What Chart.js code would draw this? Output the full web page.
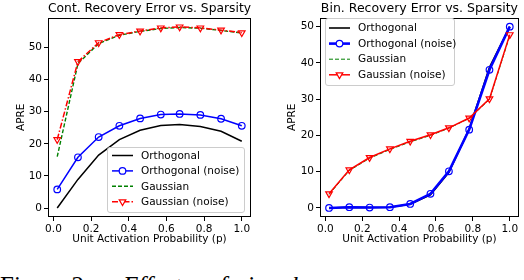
<!DOCTYPE html>
<html>
<head>
<meta charset="utf-8">
<script src="https://cdn.jsdelivr.net/npm/chart.js@4.4.1/dist/chart.umd.min.js"></script>
<style>
  body { margin: 0; width: 524px; height: 280px; overflow: hidden; background: #fff; position: relative; }
  .panel { position: absolute; top: 0; width: 262px; height: 250px; }
  #leftPanel { left: 0; }
  #rightPanel { left: 262px; }
  .caption span { position: absolute; top: 273px; font-family: "Liberation Serif", serif; font-size: 25px; line-height: 25px; white-space: nowrap; }
  .caption .it { font-style: italic; }
</style>
</head>
<body>
<div class="panel" id="leftPanel"><canvas id="contChart" width="262" height="250"></canvas></div>
<div class="panel" id="rightPanel"><canvas id="binChart" width="262" height="250"></canvas></div>
<div class="caption">
  <span style="left:0">Figure 2:</span>
  <span class="it" style="left:123px">Effect</span>
  <span class="it" style="left:207px">of</span>
  <span class="it" style="left:237px">signal</span>
</div>
<script>
// Data
const probs = [0.02, 0.13, 0.24, 0.35, 0.46, 0.57, 0.67, 0.78, 0.89, 1.0];
const seriesNames = ["Orthogonal", "Orthogonal (noise)", "Gaussian", "Gaussian (noise)"];

const contOrth = [0, 8.9, 16.5, 21.3, 24.2, 25.7, 26.0, 25.4, 23.9, 20.8];
const contOrthNoise = [5.8, 15.8, 22.1, 25.6, 27.9, 29.1, 29.3, 29.0, 27.8, 25.6];
const contGauss = [16.0, 45.0, 51.2, 53.8, 55.0, 55.9, 56.2, 56.0, 55.3, 54.5];
const contGaussNoise = [21.3, 45.6, 51.5, 54.0, 55.1, 56.1, 56.4, 56.1, 55.4, 54.6];

const binOrth = [0, 0.2, 0.1, 0.2, 1.0, 3.6, 9.8, 21.8, 38.8, 50.0];
const binOrthNoise = [0, 0.2, 0.1, 0.2, 1.1, 3.9, 10.1, 21.6, 38.1, 50.0];
const binGauss = [3.7, 10.3, 13.7, 16.1, 18.2, 20.0, 22.0, 24.7, 29.9, 47.5];
const binGaussNoise = [3.9, 10.5, 13.9, 16.3, 18.4, 20.2, 22.1, 24.8, 30.1, 47.8];

const xTicks = [0, 0.2, 0.4, 0.6, 0.8, 1.0];
const contYTicks = [0, 10, 20, 30, 40, 50];
const binYTicks = [0, 10, 20, 30, 40, 50];

Chart.defaults.font.family = "'DejaVu Sans', sans-serif";
Chart.defaults.color = "#000";

const toPoints = (ys) => probs.map((x, k) => ({ x: x, y: ys[k] }));

// box around the plot (matplotlib spines)
const frame = {
  id: "frame",
  afterDatasetsDraw(chart) {
    const { ctx, chartArea: a } = chart;
    ctx.save();
    ctx.strokeStyle = "#000";
    ctx.lineWidth = 1;
    ctx.strokeRect(Math.round(a.left) + 0.5, Math.round(a.top) + 0.5,
      Math.round(a.right - a.left) - 1, Math.round(a.bottom - a.top) - 1);
    ctx.restore();
  },
};

function markerPath(ctx, style, x, y, r) {
  ctx.beginPath();
  if (style === "triangle") {
    let rad = Math.PI;
    ctx.moveTo(x + Math.sin(rad) * r, y - Math.cos(rad) * r);
    rad += Math.PI * 2 / 3;
    ctx.lineTo(x + Math.sin(rad) * r, y - Math.cos(rad) * r);
    rad += Math.PI * 2 / 3;
    ctx.lineTo(x + Math.sin(rad) * r, y - Math.cos(rad) * r);
    ctx.closePath();
  } else {
    ctx.arc(x, y, r, 0, Math.PI * 2);
  }
}

// matplotlib style legend inside the axes
const boxLegend = {
  id: "boxLegend",
  afterDatasetsDraw(chart, args, o) {
    const ctx = chart.ctx;
    ctx.save();
    ctx.beginPath();
    ctx.roundRect(o.x + 0.5, o.y + 0.5, o.w, o.h, 2.5);
    ctx.fillStyle = "rgba(255,255,255,0.85)";
    ctx.fill();
    ctx.strokeStyle = "#cccccc";
    ctx.lineWidth = 1;
    ctx.stroke();
    ctx.font = "10.5px 'DejaVu Sans'";
    ctx.textBaseline = "middle";
    chart.data.datasets.forEach((ds, i) => {
      const y = o.y + o.first + i * o.step;
      const x0 = o.x + o.pad;
      ctx.strokeStyle = ds.borderColor;
      ctx.lineWidth = ds.borderWidth;
      ctx.setLineDash(ds.borderDash || []);
      ctx.beginPath();
      ctx.moveTo(x0, y);
      ctx.lineTo(x0 + 21, y);
      ctx.stroke();
      ctx.setLineDash([]);
      if (ds.pointRadius > 0) {
        markerPath(ctx, ds.pointStyle, x0 + 10.5, y, ds.pointRadius);
        ctx.lineWidth = ds.pointBorderWidth;
        ctx.fillStyle = "#fff";
        ctx.fill();
        ctx.stroke();
      }
      ctx.fillStyle = "#000";
      ctx.fillText(ds.label, x0 + 29, y + 0.5);
    });
    ctx.restore();
  },
};

function makeChart(id, title, ys, yMin, yMax, yTicks, s) {
  const styles = [
    { color: "#000000", width: s.lw[0], dash: [], point: 0, order: 4 },
    { color: "#0000ff", width: s.lw[1], dash: [], point: 3.3, pstyle: "circle", order: 3 },
    { color: "#008000", width: s.lw[2], dash: [4, 2], point: 0, order: 2 },
    { color: "#ff0000", width: s.lw[3], dash: s.redDash, point: 3.8, pstyle: "triangle", order: 1 },
  ];
  return new Chart(document.getElementById(id), {
    type: "line",
    data: {
      datasets: ys.map((d, i) => ({
        label: seriesNames[i],
        data: toPoints(d),
        borderColor: styles[i].color,
        borderWidth: styles[i].width,
        borderDash: styles[i].dash,
        pointRadius: styles[i].point,
        pointStyle: styles[i].pstyle || "circle",
        pointRotation: styles[i].pstyle === "triangle" ? 180 : 0,
        pointBorderColor: styles[i].color,
        pointBackgroundColor: "rgba(255,255,255,0)",
        pointBorderWidth: 1.2,
        tension: 0,
        fill: false,
        order: styles[i].order,
      })),
    },
    options: {
      responsive: false,
      animation: false,
      devicePixelRatio: 1,
      layout: { padding: { left: 0, right: s.padRight, top: 0, bottom: 0 } },
      plugins: {
        legend: { display: false },
        tooltip: { enabled: false },
        title: {
          display: true,
          text: title,
          fullSize: false,
          font: { size: 12.5, weight: "normal" },
          padding: { top: 1, bottom: 1.6 },
        },
        boxLegend: s.legend,
      },
      scales: {
        x: {
          type: "linear",
          min: -0.029,
          max: 1.049,
          afterBuildTicks: (sc) => { sc.ticks = xTicks.map((v) => ({ value: v })); },
          afterFit: (sc) => { sc.height = 33; },
          grid: { drawOnChartArea: false, tickLength: 4, color: "#000" },
          border: { display: false },
          ticks: { padding: 2, font: { size: 10.5 }, maxRotation: 0, callback: (v) => v.toFixed(1) },
          title: { display: true, text: "Unit Activation Probability (p)", font: { size: 10.5 }, padding: { top: 0, bottom: 4 } },
        },
        y: {
          min: yMin,
          max: yMax,
          afterBuildTicks: (sc) => { sc.ticks = yTicks.map((v) => ({ value: v })); },
          afterFit: (sc) => { sc.width = s.axisW; },
          grid: { drawOnChartArea: false, tickLength: 4, color: "#000" },
          border: { display: false },
          ticks: { padding: 2, font: { size: 10.5 }, callback: (v) => String(v) },
          title: { display: true, text: "APRE", font: { size: 10.5 }, padding: { top: s.titlePad, bottom: 0 } },
        },
      },
    },
    plugins: [frame, boxLegend],
  });
}

makeChart("contChart", "Cont. Recovery Error vs. Sparsity",
  [contOrth, contOrthNoise, contGauss, contGaussNoise], -2.8, 59.3, contYTicks, {
    lw: [1.5, 1.5, 1.4, 1.5],
    redDash: [6, 2, 1.5, 2],
    padRight: 11,
    axisW: 48,
    titlePad: 15,
    legend: { x: 107, y: 147, w: 137, h: 65, first: 8.5, step: 15.4, pad: 5 },
  });

makeChart("binChart", "Bin. Recovery Error vs. Sparsity",
  [binOrth, binOrthNoise, binGauss, binGaussNoise], -2.5, 52.5, binYTicks, {
    lw: [1.6, 2.6, 1.0, 1.5],
    redDash: [],
    padRight: 2,
    axisW: 58,
    titlePad: 24,
    legend: { x: 63, y: 18, w: 129, h: 67, first: 10, step: 15.6, pad: 4 },
  });
</script>
</body>
</html>
